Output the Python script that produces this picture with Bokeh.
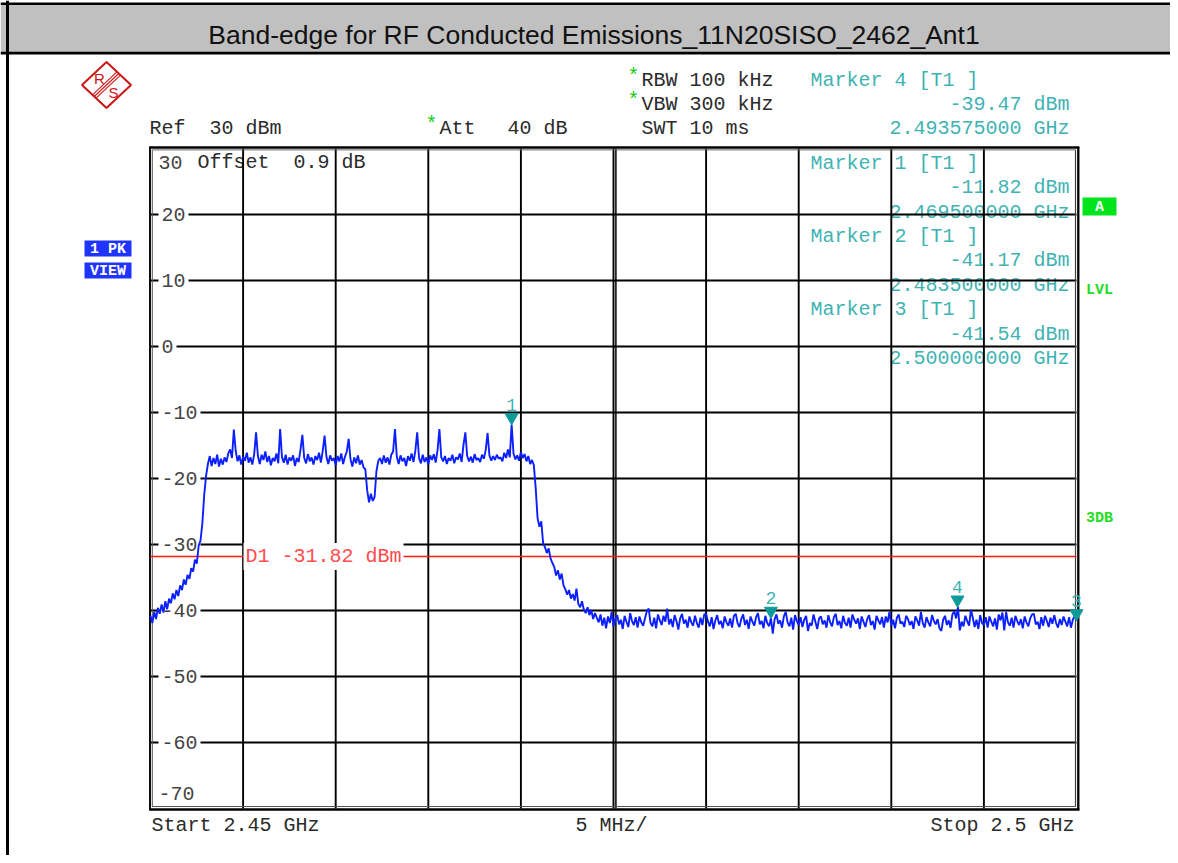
import numpy as np
from bokeh.plotting import figure
from bokeh.models import Range1d
from bokeh.core.properties import value
from bokeh.embed import file_html
from bokeh.resources import INLINE

# ---------------- data ----------------
TITLE = "Band-edge for RF Conducted Emissions_11N20SISO_2462_Ant1"
start_ghz = 2.45
stop_ghz = 2.5
ref_level = 30
bottom_level = -70

level_dbm = [
    # lower skirt
    -40.8, -41.9, -40.2, -41.3, -39.6, -40.5, -39.1, -40.3, -38.6, -39.8,
    -38.2, -38.9, -37.4, -38.3, -36.9, -37.8, -36.2, -36.9, -35.3, -36.1,
    -34.6, -35.2, -33.6, -34.1, -32.3, -32.9, -30.2, -29.4, -26.8, -22.5,
    -19.6, -17.8,
    # channel top
    -16.6, -18.1, -16.9, -17.8, -16.4, -18.2, -17.0, -17.9, -16.8, -17.5,
    -16.2, -15.6, -16.9, -12.6, -15.8, -17.4, -16.5, -17.9, -16.7, -17.3,
    -16.1, -17.6, -16.8, -17.9, -16.3, -13.0, -16.6, -17.8, -16.4, -17.2,
    -15.9, -17.5, -16.6, -18.0, -16.9, -17.4, -16.2, -17.7, -12.5, -16.8,
    -17.6, -16.4, -17.9, -16.8, -17.3, -16.5, -18.1, -16.9, -17.5, -15.6,
    -13.4, -16.9, -17.7, -16.3, -17.4, -16.8, -17.9, -16.6, -17.2, -16.1,
    -17.6, -15.8, -13.5, -16.7, -17.8, -16.5, -17.3, -16.9, -18.0, -16.6,
    -17.4, -16.2, -17.8, -16.7, -15.9, -14.0, -17.1, -18.2, -16.8, -17.7,
    -16.5, -17.9, -17.2, -18.3, -18.6, -21.8, -23.6, -22.3, -23.4, -22.8,
    -18.9, -17.3, -16.9, -17.8, -16.5, -17.6, -16.8, -17.9, -16.4, -15.9,
    -12.5, -16.7, -17.8, -16.5, -17.4, -16.9, -18.1, -16.6, -17.3, -16.2,
    -17.5, -15.8, -13.0, -16.9, -17.7, -16.4, -17.5, -16.8, -17.9, -16.5,
    -17.2, -16.3, -17.6, -15.7, -12.5, -16.8, -17.4, -16.6, -17.8, -16.9,
    -17.3, -16.4, -17.7, -16.8, -17.1, -16.2, -17.5, -14.9, -13.0, -16.6,
    -17.4, -16.7, -17.6, -16.3, -17.2, -16.9, -17.5, -16.4, -17.0, -15.7,
    -13.1, -16.5, -17.3, -16.6, -17.2, -16.4, -17.0, -16.8, -17.4, -16.1,
    -16.9, -15.6, -16.8, -11.82, -16.2, -17.1, -16.5, -17.3, -16.0, -16.9,
    -16.3, -17.4, -16.6, -17.8, -17.2, -18.0,
    # upper skirt
    -21.5, -26.0, -27.3, -26.5, -29.8, -30.4, -31.3, -30.6, -32.1, -32.8,
    -33.4, -34.7, -33.9, -35.3, -34.4, -36.2, -36.8, -37.6, -36.9, -38.2,
    -37.5, -38.5, -36.7, -39.0, -39.5, -38.6, -39.9, -40.4, -39.5, -40.7,
    -39.9, -41.3, -40.4, -41.1,
    # noise floor
    -41.8, -40.6, -42.3, -41.1, -42.7, -40.9, -41.9, -40.2, -42.4, -41.3,
    -40.7, -42.1, -41.4, -42.8, -40.8, -41.7, -42.5, -40.4, -41.6, -42.2,
    -41.0, -42.6, -40.9, -41.8, -42.3, -41.2, -40.1, -39.7, -41.9, -42.4,
    -41.1, -42.7, -40.6, -41.5, -42.2, -40.8, -41.7, -39.7, -42.1, -41.3,
    -42.5, -40.7, -41.6, -42.9, -41.2, -40.5, -42.0, -41.4, -42.6, -40.9,
    -41.8, -42.3, -40.8, -41.9, -42.6, -41.1, -42.2, -40.6, -40.5, -41.7,
    -42.4, -41.0, -42.8, -41.5, -40.7, -42.1, -41.6, -42.7, -40.9, -41.8,
    -42.3, -41.2, -42.6, -40.8, -40.5, -41.9, -42.5, -41.3, -40.6, -42.2,
    -41.4, -42.8, -40.9, -41.7, -42.3, -41.0, -40.4, -42.1, -41.6, -42.7,
    -40.8, -41.9, -42.4, -41.17, -43.5, -41.3, -40.6, -42.0, -41.5, -42.6,
    -40.9, -40.2, -41.8, -42.4, -41.1, -42.9, -40.7, -41.6, -42.2, -41.0,
    -42.5, -41.4, -40.8, -43.1, -41.9, -42.3, -40.6, -41.7, -42.8, -41.2,
    -40.9, -42.1, -41.5, -42.6, -40.7, -41.8, -42.4, -41.0, -40.5, -42.2,
    -41.6, -42.7, -40.8, -41.9, -42.3, -41.1, -42.6, -40.6, -41.4, -42.0,
    -41.2, -42.8, -40.9, -41.7, -42.5, -41.3, -40.7, -42.2, -41.6, -42.9,
    -40.8, -41.5, -42.1, -41.0, -42.6, -40.9, -41.8, -40.2, -42.3, -41.4,
    -42.7, -41.1, -40.6, -42.0, -41.7, -42.5, -40.8, -41.3, -42.2, -41.6,
    -42.8, -40.9, -41.5, -42.3, -40.2, -41.9, -42.6, -41.0, -41.8, -42.4,
    -40.7, -41.6, -42.1, -41.3, -42.7, -43.1, -41.4, -40.8, -42.2, -41.5,
    -42.6, -40.6, -40.1, -41.2, -39.47, -43.0, -41.7, -42.4, -40.8, -41.6,
    -42.3, -39.9, -41.1, -42.5, -41.4, -42.8, -40.7, -41.9, -42.2, -41.0,
    -42.6, -40.9, -41.7, -42.4, -41.2, -42.9, -40.6, -41.5, -40.3, -43.0,
    -40.2, -41.8, -42.3, -41.1, -42.6, -40.8, -41.6, -42.2, -41.3, -42.7,
    -40.9, -41.8, -42.4, -41.2, -40.6, -40.5, -42.1, -41.7, -42.8, -41.0,
    -42.3, -40.8, -41.6, -42.5, -41.1, -42.0, -40.7, -41.9, -42.6, -41.3,
    -42.2, -40.9, -41.7, -42.4, -41.0, -42.6, -41.4, -40.8, -41.54,
]

freq_ticks = [2.455, 2.46, 2.465, 2.47, 2.475, 2.48, 2.485, 2.49, 2.495]
amp_ticks = [20, 10, 0, -10, -20, -30, -40, -50, -60]
amp_tick_labels = ["20", "10", "0", "-10", "-20", "-30", "-40", "-50", "-60"]
top_label = "30"
bottom_label = "-70"

marker_ids = ["1", "2", "3", "4"]
marker_freq = [2.4695, 2.4835, 2.5, 2.493575]
marker_level = [-11.82, -41.17, -41.54, -39.47]
d1_level = -31.82

# ---------------- layout (reference pixels) ----------------
W, H, OFF = 1170, 855, 0
X0, X1, Y0, Y1 = 150.0, 1076.0, 148.0, 808.0
px_per_ghz = (X1 - X0) / (stop_ghz - start_ghz)
px_per_db = (Y1 - Y0) / (ref_level - bottom_level)

MONO = "Liberation Mono"
FS = 20
DARK = "#2b2b2b"
CYAN = "#3fb3b3"
TEAL = "#0f9a9a"
NB = "\u00a0"

p = figure(width=W, height=H, x_range=Range1d(OFF, OFF + W), y_range=Range1d(OFF + H, OFF),
           min_border=0, toolbar_location=None, output_backend="svg",
           x_axis_type=None, y_axis_type=None, title=None,
           outline_line_color=None, background_fill_color="white", border_fill_color="white")
p.extra_x_ranges = {"freq": Range1d(start_ghz - (X0 - OFF) / px_per_ghz,
                                    stop_ghz + (OFF + W - X1) / px_per_ghz)}
p.extra_y_ranges = {"amp": Range1d(bottom_level - (OFF + H - Y1) / px_per_db,
                                   ref_level + (Y0 - OFF) / px_per_db)}
D = dict(x_range_name="freq", y_range_name="amp")


def txt(x, y, s, color=DARK, size=FS, align="left", font=MONO, style="normal",
        bg=None, pad=0, xo=0, yo=0, data=False, baseline="middle"):
    xs = x if isinstance(x, (list, tuple, np.ndarray)) else [x]
    ys = y if isinstance(y, (list, tuple, np.ndarray)) else [y]
    ss = s if isinstance(s, (list, tuple)) else [s]
    ss = [t.replace("  ", " " + NB) for t in ss]
    kw = dict(D) if data else {}
    if bg is not None:
        kw.update(background_fill_color=bg, padding=pad)
    p.text(x=list(xs), y=list(ys), text=list(ss), text_color=color,
           text_font=value(font), text_font_size=value(f"{size}px"),
           text_font_style=style, text_align=align, text_baseline=baseline,
           x_offset=xo, y_offset=yo, **kw)


def seg(x0, y0, x1, y1, color="black", w=1.5):
    p.segment(x0=[x0], y0=[y0], x1=[x1], y1=[y1], line_color=color, line_width=w)


# ---------------- title bar ----------------
p.quad(left=[0], right=[W], top=[4.5], bottom=[51.5], fill_color="#c0c0c0", line_color=None)
seg(0, 3.2, W, 3.2, "black", 2.4)
seg(0, 52.6, W, 52.6, "black", 2.6)
seg(7.0, 0, 7.0, H, "black", 3.0)
txt(593.5, 34.5, TITLE, color="#111111", size=26.5, align="center", font="Liberation Sans")

# ---------------- R&S logo ----------------
p.patch(x=[81.5, 106, 130.5, 106], y=[84.5, 61.5, 84.5, 107.5], fill_color=None,
        line_color="#cc1515", line_width=2)
for k in (-2.4, 0.0, 2.4):
    seg(118.25 + 0.729 * k, 73 + 0.684 * k, 93.75 + 0.729 * k, 96 + 0.684 * k, "#cc1515", 1.1)
txt(99, 78, "R", color="#cc1515", size=15, align="center", font="Liberation Sans")
txt(113, 92, "S", color="#cc1515", size=15, align="center", font="Liberation Sans")

# ---------------- side boxes ----------------
p.quad(left=[84, 84], right=[131, 131], top=[240, 262], bottom=[256, 278],
       fill_color="#1f35ff", line_color=None)
txt(107.5, 248.5, "1 PK", color="white", size=15, align="center", style="bold")
txt(107.5, 270.5, "VIEW", color="white", size=15, align="center", style="bold")
p.quad(left=[1082], right=[1116], top=[197], bottom=[215], fill_color="#00e41c", line_color=None)
txt(1099, 206.5, "A", color="white", size=15, align="center", style="bold")
txt(1099, 289.5, "LVL", color="#22dd22", size=15, align="center", style="bold")
txt(1099, 517.5, "3DB", color="#22dd22", size=15, align="center", style="bold")

# ---------------- header texts ----------------
txt(149, 128, "Ref  30 dBm")
txt(431, 124, "*", color="#11cc11", align="center")
txt(439, 128, "Att")
txt(507, 128, "40 dB")
txt(633, 76, "*", color="#11cc11", align="center")
txt(641, 80, "RBW 100 kHz")
txt(633, 100, "*", color="#11cc11", align="center")
txt(641, 104, "VBW 300 kHz")
txt(641, 128, "SWT 10 ms")

RIGHT_TXT = 1069
txt(810, 80, f"Marker {marker_ids[3]} [T1 ]", color=CYAN)
txt(RIGHT_TXT, 104, f"{marker_level[3]:.2f} dBm", color=CYAN, align="right")
txt(RIGHT_TXT, 128, f"{marker_freq[3]:.9f} GHz", color=CYAN, align="right")

# marker table inside the graticule (drawn below the grid)
for row, m in enumerate(range(3)):
    base = 163 + row * 73.2
    txt(810, base, f"Marker {marker_ids[m]} [T1 ]", color=CYAN)
    txt(RIGHT_TXT, base + 24.2, f"{marker_level[m]:.2f} dBm", color=CYAN, align="right")
    txt(RIGHT_TXT, base + 48.6, f"{marker_freq[m]:.9f} GHz", color=CYAN, align="right")

txt(197, 161.7, "Offset  0.9 dB")

# ---------------- graticule ----------------
GRID = "#000000"
n_t = len(freq_ticks)
p.segment(x0=freq_ticks, y0=[bottom_level] * n_t, x1=freq_ticks, y1=[ref_level] * n_t,
          line_color=GRID, line_width=1.9, **D)
center = (start_ghz + stop_ghz) / 2
p.segment(x0=[center + 2.4 / px_per_ghz], y0=[bottom_level], x1=[center + 2.4 / px_per_ghz],
          y1=[ref_level], line_color=GRID, line_width=1.5, **D)
n_a = len(amp_ticks)
p.segment(x0=[start_ghz] * n_a, y0=amp_ticks, x1=[stop_ghz] * n_a, y1=amp_ticks,
          line_color=GRID, line_width=1.9, **D)

# frame (double lines)
seg(149.5, 146.5, 149.5, 809.5, "black", 1.9)
seg(151.8, 149.3, 151.8, 806.2, "#555555", 1.0)
seg(1077.8, 146.5, 1077.8, 809.8, "black", 2.3)
seg(1075.0, 149.3, 1075.0, 806.2, "#444444", 1.2)
seg(148.6, 147.0, 1078.8, 147.0, "black", 2.3)
seg(151.8, 149.4, 1075.0, 149.4, "#666666", 1.0)
seg(148.6, 808.9, 1078.8, 808.9, "black", 2.5)
seg(151.8, 806.0, 1075.0, 806.0, "#555555", 1.0)

# y tick labels (inside the graticule)
txt([start_ghz] * n_a, amp_ticks, amp_tick_labels, color="#444444", xo=8, bg="white", pad=3, data=True)
txt(start_ghz, ref_level, top_label, color="#444444", xo=8, yo=13.7, data=True)
txt(start_ghz, bottom_level, bottom_label, color="#444444", xo=8, yo=-15.3, data=True)

# display line D1
p.segment(x0=[start_ghz], y0=[d1_level], x1=[stop_ghz], y1=[d1_level],
          line_color="#ff1a1a", line_width=1.6, **D)
txt(start_ghz, d1_level, f"D1 {d1_level:.2f} dBm", color="#ff4c4c", xo=93, bg="white", pad=2,
    data=True)

# ---------------- trace ----------------
freq_ghz = np.linspace(start_ghz, stop_ghz, len(level_dbm))
p.line(freq_ghz, level_dbm, line_color="#0b1fff", line_width=1.9, **D)

# markers
tip_px = 7.2
p.scatter(x=marker_freq, y=[v + tip_px / px_per_db for v in marker_level], marker="inverted_triangle",
          size=13, fill_color=TEAL, line_color=TEAL, **D)
txt(marker_freq, marker_level, marker_ids, color=CYAN, size=18, align="center", yo=-20, data=True)

# ---------------- footer ----------------
txt(151, 825, "Start 2.45 GHz")
txt(575, 825, "5 MHz/")
txt(1074, 825, "Stop 2.5 GHz", align="right")

open("out.html", "w").write(file_html(p, INLINE))
